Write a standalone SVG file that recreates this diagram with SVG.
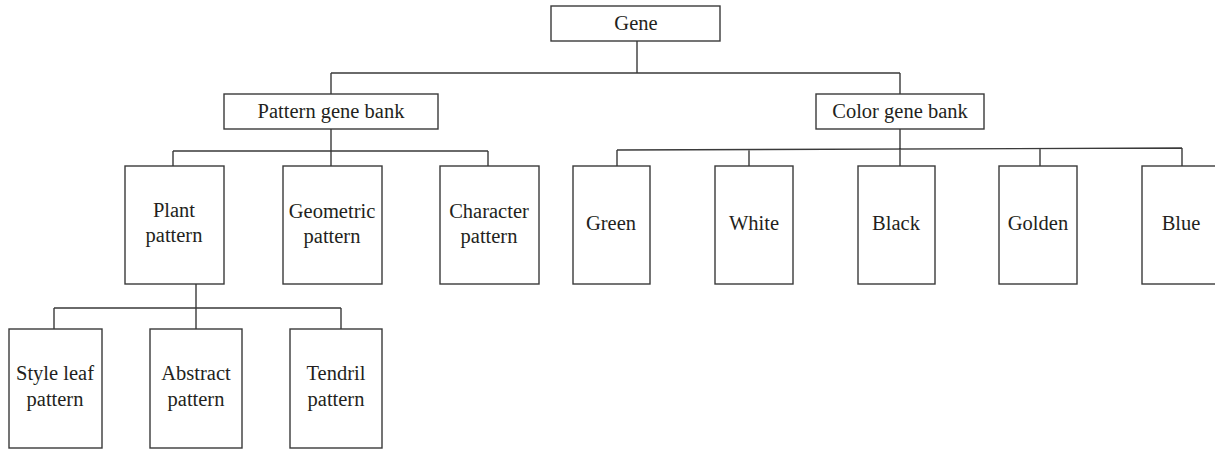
<svg xmlns="http://www.w3.org/2000/svg" width="1215" height="449" viewBox="0 0 1215 449">
<style>
.box{fill:#fff;stroke:#3a3a3a;stroke-width:1.4}
.ln{fill:none;stroke:#3a3a3a;stroke-width:1.4}
text{font-family:"Liberation Serif","Times New Roman",serif;font-size:20.5px;fill:#231f20;text-anchor:middle}
</style>
<rect width="1215" height="449" fill="#fff"/>
<g id="connectors">
<path class="ln" d="M637,41V73M331,73H900M331,73V94M900,73V94"/>
<path class="ln" d="M331,129V151M173,151H488M173,151V166M331,151V166M488,151V166"/>
<path class="ln" d="M900,129V166M617,150L1182,148M617,150V166M749,149.5V166M1040,148.5V166M1182,148V166"/>
<path class="ln" d="M196,284V308M54,308H341M54,308V329M196,308V329M341,308V329"/>
</g>
<g id="gene"><rect class="box" x="551" y="6" width="169" height="35"/><text x="636" y="30">Gene</text></g>
<g id="pattern-bank"><rect class="box" x="224" y="94" width="214" height="35"/><text x="331" y="118">Pattern gene bank</text></g>
<g id="color-bank"><rect class="box" x="816" y="94" width="168" height="35"/><text x="900" y="118">Color gene bank</text></g>
<g id="plant"><rect class="box" x="125" y="166" width="99" height="118"/><text x="174" y="217">Plant</text><text x="174" y="242">pattern</text></g>
<g id="geometric"><rect class="box" x="283" y="166" width="99" height="118"/><text x="332" y="218">Geometric</text><text x="332" y="243">pattern</text></g>
<g id="character"><rect class="box" x="440" y="166" width="99" height="118"/><text x="489" y="218">Character</text><text x="489" y="243">pattern</text></g>
<g id="green"><rect class="box" x="573" y="166" width="77" height="118"/><text x="611" y="230">Green</text></g>
<g id="white"><rect class="box" x="715" y="166" width="78" height="118"/><text x="754" y="230">White</text></g>
<g id="black"><rect class="box" x="858" y="166" width="77" height="118"/><text x="896" y="230">Black</text></g>
<g id="golden"><rect class="box" x="999" y="166" width="78" height="118"/><text x="1038" y="230">Golden</text></g>
<g id="blue"><rect class="box" x="1142" y="166" width="80" height="118"/><text x="1181" y="230">Blue</text></g>
<g id="style-leaf"><rect class="box" x="9" y="329" width="93" height="119"/><text x="55" y="380">Style leaf</text><text x="55" y="406">pattern</text></g>
<g id="abstract"><rect class="box" x="150" y="329" width="92" height="119"/><text x="196" y="380">Abstract</text><text x="196" y="406">pattern</text></g>
<g id="tendril"><rect class="box" x="290" y="329" width="92" height="119"/><text x="336" y="380">Tendril</text><text x="336" y="406">pattern</text></g>
</svg>
